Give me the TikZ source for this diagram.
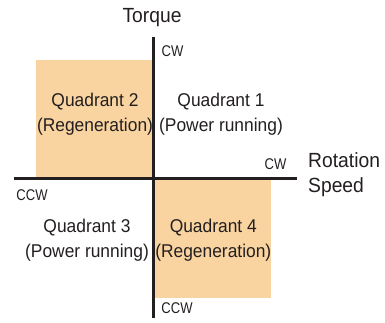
\documentclass[tikz,border=0pt]{standalone}
\usepackage{fontspec}
\setmainfont[FakeStretch=0.94]{Liberation Sans}
\newfontfamily\narrowfont[FakeStretch=0.84]{Liberation Sans}
\usepackage{xcolor}
\usepackage{tikz}
\usetikzlibrary{positioning,calc}
\definecolor{regen}{HTML}{F9D4A0}
\definecolor{axisgray}{HTML}{231F20}

\begin{document}
\begin{tikzpicture}[
        x=1pt, y=-1pt,
        axis/.style={draw=axisgray,line width=2.8pt},
        quad/.style={fill=regen},
        qlabel/.style={align=center,inner sep=0pt,text=axisgray,
                       font=\fontsize{18.5}{25}\selectfont},
        dir/.style={inner sep=0pt,text=axisgray,font=\narrowfont\fontsize{15.5}{16}\selectfont},
        title/.style={inner sep=0pt,text=axisgray,font=\fontsize{20.5}{25}\selectfont}
      ]
      \useasboundingbox (0,0) rectangle (385,323);
      % regeneration quadrants
      \fill[quad] (36,60) rectangle (153.8,178.5);
      \fill[quad] (153.8,178.5) rectangle (270.7,297.7);

      \coordinate (Ttop) at (153.8,37);
      \coordinate (Tbot) at (153.8,318);
      \coordinate (Sl) at (14,178.5);
      \coordinate (Sr) at (297,178.5);
      \draw[axis] (Sl) -- (Sr);
      \draw[axis] (Ttop) -- (Tbot);

      \node[title] (Torque) at (152,18) {Torque};
      \node[title,align=left,anchor=north west,
            font=\fontsize{20.5}{25.5}\selectfont] (Rot) at (308,152) {Rotation\\Speed};

      \node[dir] (CWt) at (172.5,51.5) {CW};
      \node[dir] (CWr) at (275.5,164) {CW};
      \node[dir] (CCWl) at (32,195) {CCW};
      \node[dir] (CCWb) at (177,308.5) {CCW};

      \node[qlabel] (Q1) at (221,114) {Quadrant 1\\(Power running)};
      \node[qlabel] (Q2) at (95,114) {Quadrant 2\\(Regeneration)};
      \node[qlabel] (Q3) at (87,240) {Quadrant 3\\(Power running)};
      \node[qlabel] (Q4) at (213.3,240) {Quadrant 4\\(Regeneration)};
    \end{tikzpicture}
\end{document}
